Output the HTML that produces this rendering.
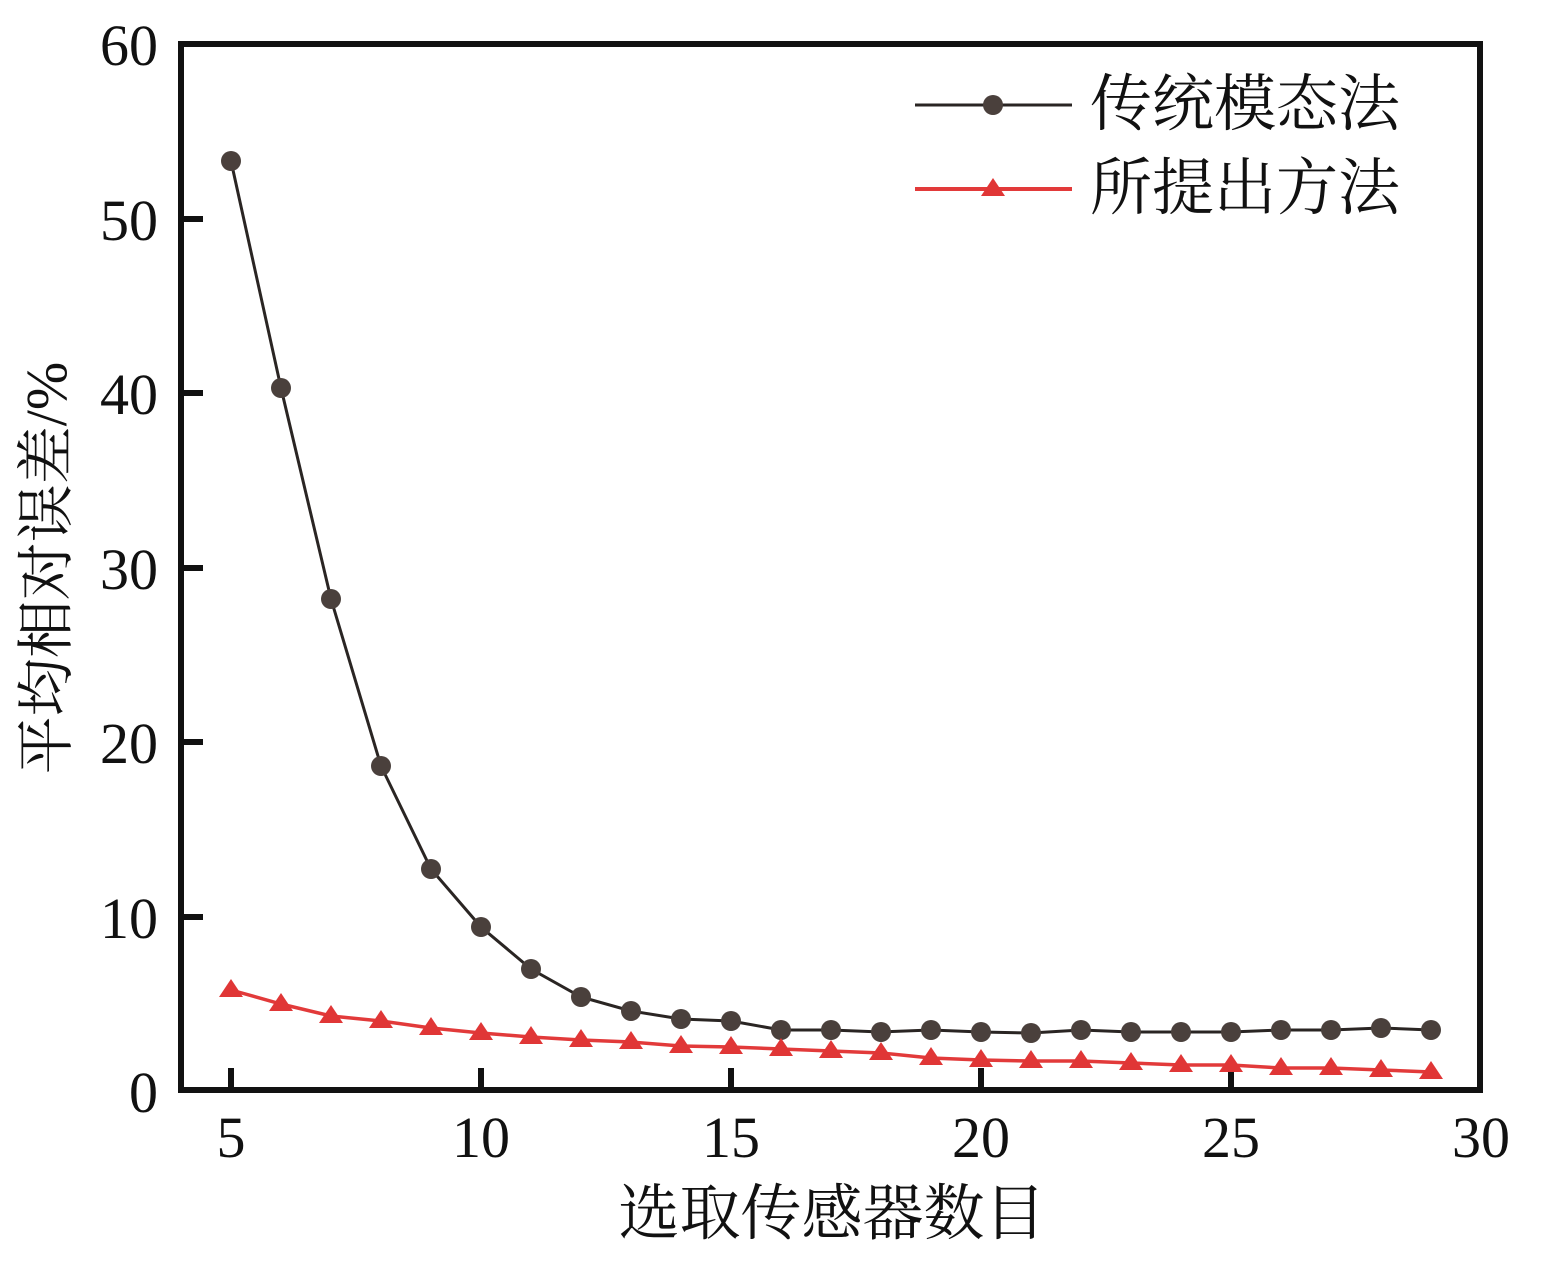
<!DOCTYPE html>
<html><head><meta charset="utf-8"><style>
html,body{margin:0;padding:0;background:#fff;}
svg{display:block;}
.num{font-family:"Liberation Serif",serif;font-size:58px;fill:#111;}
.cjk{font-family:"Liberation Serif","Noto Serif CJK SC",serif;fill:#111;}
</style></head><body>
<svg width="1553" height="1275" viewBox="0 0 1553 1275" xmlns="http://www.w3.org/2000/svg">
<g class="num">
<text x="158" y="65" text-anchor="end">60</text>
<text x="158" y="240" text-anchor="end">50</text>
<text x="158" y="414" text-anchor="end">40</text>
<text x="158" y="589" text-anchor="end">30</text>
<text x="158" y="763" text-anchor="end">20</text>
<text x="158" y="938" text-anchor="end">10</text>
<text x="158" y="1112" text-anchor="end">0</text>
<text x="231" y="1157" text-anchor="middle">5</text>
<text x="481" y="1157" text-anchor="middle">10</text>
<text x="731" y="1157" text-anchor="middle">15</text>
<text x="981" y="1157" text-anchor="middle">20</text>
<text x="1231" y="1157" text-anchor="middle">25</text>
<text x="1481" y="1157" text-anchor="middle">30</text>
</g>
<g class="cjk">
<text x="832" y="1234" text-anchor="middle" font-size="61">选取传感器数目</text>
<text transform="translate(66,568) rotate(-90)" text-anchor="middle" font-size="58">平均相对误差/%</text>
<text x="1090" y="125" font-size="62">传统模态法</text>
<text x="1090" y="209" font-size="62">所提出方法</text>
</g>
<g stroke="#111" stroke-width="6">
<line x1="231" y1="1090" x2="231" y2="1068"/>
<line x1="481" y1="1090" x2="481" y2="1068"/>
<line x1="731" y1="1090" x2="731" y2="1068"/>
<line x1="981" y1="1090" x2="981" y2="1068"/>
<line x1="1231" y1="1090" x2="1231" y2="1068"/>
<line x1="181" y1="219" x2="203" y2="219"/>
<line x1="181" y1="393" x2="203" y2="393"/>
<line x1="181" y1="568" x2="203" y2="568"/>
<line x1="181" y1="742" x2="203" y2="742"/>
<line x1="181" y1="917" x2="203" y2="917"/>
<rect x="181" y="44" width="1299" height="1046" fill="none"/>
</g>
<polyline fill="none" stroke="#2a2523" stroke-width="3" points="231,161 281,388 331,599 381,766 431,869 481,927 531,969 581,997 631,1011 681,1019 731,1021 781,1030 831,1030 881,1032 931,1030 981,1032 1031,1033 1081,1030 1131,1032 1181,1032 1231,1032 1281,1030 1331,1030 1381,1028 1431,1030"/>
<g fill="#4a403c">
<circle cx="231" cy="161" r="10"/><circle cx="281" cy="388" r="10"/><circle cx="331" cy="599" r="10"/><circle cx="381" cy="766" r="10"/><circle cx="431" cy="869" r="10"/><circle cx="481" cy="927" r="10"/><circle cx="531" cy="969" r="10"/><circle cx="581" cy="997" r="10"/><circle cx="631" cy="1011" r="10"/><circle cx="681" cy="1019" r="10"/><circle cx="731" cy="1021" r="10"/><circle cx="781" cy="1030" r="10"/><circle cx="831" cy="1030" r="10"/><circle cx="881" cy="1032" r="10"/><circle cx="931" cy="1030" r="10"/><circle cx="981" cy="1032" r="10"/><circle cx="1031" cy="1033" r="10"/><circle cx="1081" cy="1030" r="10"/><circle cx="1131" cy="1032" r="10"/><circle cx="1181" cy="1032" r="10"/><circle cx="1231" cy="1032" r="10"/><circle cx="1281" cy="1030" r="10"/><circle cx="1331" cy="1030" r="10"/><circle cx="1381" cy="1028" r="10"/><circle cx="1431" cy="1030" r="10"/>
</g>
<line x1="915" y1="105" x2="1072" y2="105" stroke="#2a2523" stroke-width="3"/>
<circle cx="993" cy="105" r="10" fill="#4a403c"/>
<polyline fill="none" stroke="#e23a3a" stroke-width="3.5" points="231,990 281,1004 331,1016 381,1021 431,1028 481,1033 531,1037 581,1040 631,1042 681,1046 731,1047 781,1049 831,1051 881,1053 931,1058 981,1060 1031,1061 1081,1061 1131,1063 1181,1065 1231,1065 1281,1068 1331,1068 1381,1070 1431,1072"/>
<line x1="915" y1="189" x2="1072" y2="189" stroke="#e23a3a" stroke-width="4"/>
<g fill="#e03636">
<path d="M231,979 l-12,18 h24z"/><path d="M281,993 l-12,18 h24z"/><path d="M331,1005 l-12,18 h24z"/><path d="M381,1010 l-12,18 h24z"/><path d="M431,1017 l-12,18 h24z"/><path d="M481,1022 l-12,18 h24z"/><path d="M531,1026 l-12,18 h24z"/><path d="M581,1029 l-12,18 h24z"/><path d="M631,1031 l-12,18 h24z"/><path d="M681,1035 l-12,18 h24z"/><path d="M731,1036 l-12,18 h24z"/><path d="M781,1038 l-12,18 h24z"/><path d="M831,1040 l-12,18 h24z"/><path d="M881,1042 l-12,18 h24z"/><path d="M931,1047 l-12,18 h24z"/><path d="M981,1049 l-12,18 h24z"/><path d="M1031,1050 l-12,18 h24z"/><path d="M1081,1050 l-12,18 h24z"/><path d="M1131,1052 l-12,18 h24z"/><path d="M1181,1054 l-12,18 h24z"/><path d="M1231,1054 l-12,18 h24z"/><path d="M1281,1057 l-12,18 h24z"/><path d="M1331,1057 l-12,18 h24z"/><path d="M1381,1059 l-12,18 h24z"/><path d="M1431,1061 l-12,18 h24z"/>
<path d="M993,178 l-12,18 h24z"/>
</g>
</svg>
</body></html>
